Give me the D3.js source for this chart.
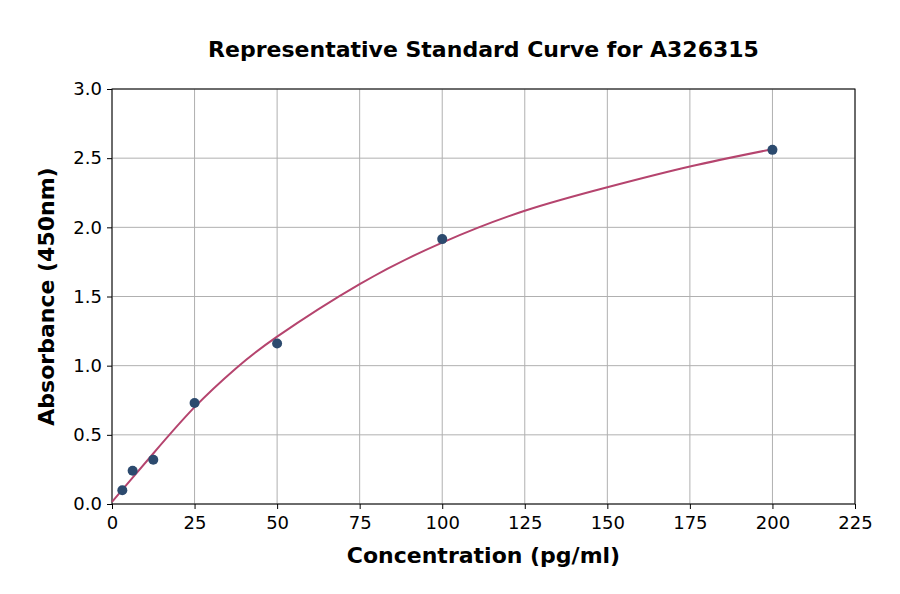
<!DOCTYPE html>
<html>
<head>
<meta charset="utf-8">
<script src="https://cdn.jsdelivr.net/npm/d3@7"></script>
<style>
  body { margin: 0; background: #fff; }
  text { font-family: "DejaVu Sans", sans-serif; }
</style>
</head>
<body>
<div id="chart"></div>
<script>
var w = 900,
    h = 594;

var margin = { top: 89, right: 45, bottom: 90, left: 112 };

// standard points
var conc = [3.125, 6.25, 12.5, 25, 50, 100, 200];
var absorb = [0.10, 0.24, 0.32, 0.73, 1.16, 1.915, 2.56];

// fitted curve
var curveX = [0, 6.25, 12.5, 25, 37.5, 50, 75, 100, 125, 150, 175, 200];
var curveY = [0.015, 0.19, 0.365, 0.70, 0.98, 1.21, 1.59, 1.89, 2.12, 2.29, 2.44, 2.565];

var xTicks = [0, 25, 50, 75, 100, 125, 150, 175, 200, 225];
var yTicks = [0, 0.5, 1.0, 1.5, 2.0, 2.5, 3.0];

var svg = d3.select("#chart")
            .append("svg")
            .attr("width", w)
            .attr("height", h);

var x = d3.scaleLinear()
          .domain([0, 225])
          .range([margin.left, w - margin.right]);

var y = d3.scaleLinear()
          .domain([0, 3])
          .range([h - margin.bottom, margin.top]);

// grid
svg.append("g")
   .selectAll("line")
   .data(xTicks)
   .enter().append("line")
   .attr("x1", function(d) { return x(d); })
   .attr("x2", function(d) { return x(d); })
   .attr("y1", y(0))
   .attr("y2", y(3))
   .attr("stroke", "#b0b0b0")
   .attr("stroke-width", 1);

svg.append("g")
   .selectAll("line")
   .data(yTicks)
   .enter().append("line")
   .attr("x1", x(0))
   .attr("x2", x(225))
   .attr("y1", function(d) { return y(d); })
   .attr("y2", function(d) { return y(d); })
   .attr("stroke", "#b0b0b0")
   .attr("stroke-width", 1);

// axes
var xAxis = d3.axisBottom(x)
              .tickValues(xTicks)
              .tickSize(5)
              .tickPadding(7)
              .tickFormat(d3.format("d"));

var yAxis = d3.axisLeft(y)
              .tickValues(yTicks)
              .tickSize(5)
              .tickPadding(5)
              .tickFormat(d3.format(".1f"));

var gx = svg.append("g")
            .attr("transform", "translate(0," + y(0) + ")")
            .call(xAxis);

var gy = svg.append("g")
            .attr("transform", "translate(" + x(0) + ",0)")
            .call(yAxis);

[gx, gy].forEach(function(g) {
  g.select(".domain").remove();
  g.selectAll("line").attr("stroke", "#000").attr("stroke-width", 1);
  g.selectAll("text")
   .attr("font-family", "DejaVu Sans, sans-serif")
   .attr("font-size", "18px")
   .attr("fill", "#000");
});

// frame
svg.append("rect")
   .attr("x", x(0))
   .attr("y", y(3))
   .attr("width", x(225) - x(0))
   .attr("height", y(0) - y(3))
   .attr("fill", "none")
   .attr("stroke", "#000")
   .attr("stroke-width", 1);

// curve
var line = d3.line()
             .x(function(d) { return x(d[0]); })
             .y(function(d) { return y(d[1]); })
             .curve(d3.curveNatural);

svg.append("path")
   .datum(d3.zip(curveX, curveY))
   .attr("d", line)
   .attr("fill", "none")
   .attr("stroke", "#b5446e")
   .attr("stroke-width", 2);

// points
svg.selectAll("circle")
   .data(d3.zip(conc, absorb))
   .enter().append("circle")
   .attr("cx", function(d) { return x(d[0]); })
   .attr("cy", function(d) { return y(d[1]); })
   .attr("r", 5)
   .attr("fill", "#2c4a6e");

// labels
svg.append("text")
   .text("Representative Standard Curve for A326315")
   .attr("x", (x(0) + x(225)) / 2)
   .attr("y", 57)
   .attr("text-anchor", "middle")
   .attr("font-size", "22px")
   .attr("font-weight", "bold");

svg.append("text")
   .text("Concentration (pg/ml)")
   .attr("x", (x(0) + x(225)) / 2)
   .attr("y", 563)
   .attr("text-anchor", "middle")
   .attr("font-size", "22px")
   .attr("font-weight", "bold");

svg.append("text")
   .text("Absorbance (450nm)")
   .attr("transform", "translate(54," + (y(0) + y(3)) / 2 + ") rotate(-90)")
   .attr("text-anchor", "middle")
   .attr("font-size", "22px")
   .attr("font-weight", "bold");
</script>
</body>
</html>
